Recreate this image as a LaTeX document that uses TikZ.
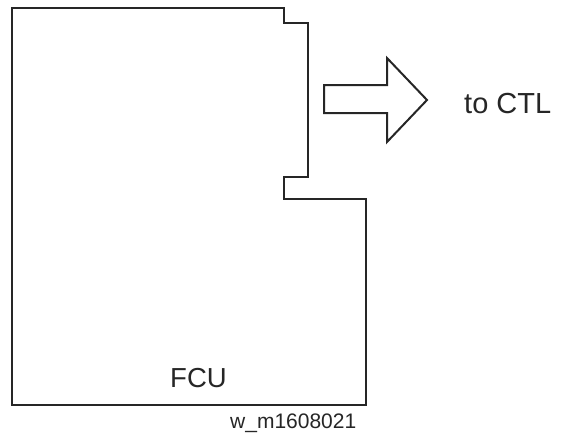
\documentclass[tikz,border=0pt]{standalone}
\usepackage{fontspec}
\setmainfont{Liberation Sans}
\begin{document}
\begin{tikzpicture}[x=1pt,y=-1pt,
  outline/.style={draw=black!85,line width=2.3pt,line join=miter},
  arrowshape/.style={draw=black!85,line width=2pt,line join=miter,fill=white},
  lbl/.style={anchor=base west,inner sep=0pt,text=black!85}]
\useasboundingbox (0,0) rectangle (563,437);
% FCU board outline
\draw[outline] (12,8) -- (284,8) -- (284,23) -- (308,23) -- (308,177) -- (284,177)
  -- (284,199) -- (366,199) -- (366,405) -- (12,405) -- cycle;
% block arrow
\draw[arrowshape] (324,85) -- (387,85) -- (387,58) -- (427,100) -- (387,142)
  -- (387,113) -- (324,113) -- cycle;
\node[lbl,font=\fontsize{29}{34}\selectfont] (ctl) at (464,113) {to CTL};
\node[lbl,font=\fontsize{27.5}{32}\selectfont] (fcu) at (170,387) {FCU};
\node[lbl,font=\fontsize{21}{25}\selectfont] (code) at (230,428) {w\_m1608021};
\end{tikzpicture}
\end{document}
